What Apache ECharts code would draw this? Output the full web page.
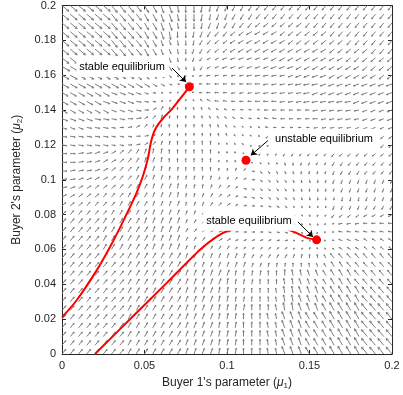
<!DOCTYPE html>
<html><head><meta charset="utf-8">
<script src="https://cdn.jsdelivr.net/npm/echarts@6.0.0/dist/echarts.min.js"></script>
<style>html,body{margin:0;padding:0;background:#fff}#c{width:403px;height:395px}</style>
</head><body><div id="c"></div>
<script>
// grid positions of the direction field (both axes)
const gridValues = [0,0.005,0.01,0.015,0.02,0.025,0.03,0.035,0.04,0.045,0.05,0.055,0.06,0.065,0.07,0.075,0.08,0.085,0.09,0.095,0.1,0.105,0.11,0.115,0.12,0.125,0.13,0.135,0.14,0.145,0.15,0.155,0.16,0.165,0.17,0.175,0.18,0.185,0.19,0.195,0.2];
// arrow direction, run-length coded "code+count"; code index * 10 deg (0 = right, 90 = up)
// rows go from y = 0.2 (top) down to y = 0
const angleCodes = "0123456789abcdefghijklmnopqrstuvwxyz";
const angleRows = [
"w6 v4 u2 t2 s1 r2 q2 p2 o3 n17",
"w6 v4 u2 t2 s1 r2 q2 p2 o3 n17",
"w6 v4 u2 t2 s1 r2 q1 p2 o2 n2 m6 n11",
"w6 v4 u2 t1 s1 r2 q1 p1 o1 n2 m2 l4 m6 n8",
"w6 v4 u2 t2 s1 r1 q1 o1 n1 m2 l7 m7 n6",
"w6 v4 u2 t2 s1 r1 p1 o1 n1 m2 l12 m5 n3",
"w7 v3 u2 t2 s1 r1 p1 n1 l2 k6 l9 m6",
"x5 w5 v3 u2 s1 r1 o1 l1 k10 l8 m4",
"x9 w4 v1 u1 q1 m1 k1 j10 k5 l6 m2",
"x13 y1 z1 r1 j1 i8 j7 k9",
"x6 y5 z2 01 21 e1 h1 i4 j10 k10",
"x5 y4 z3 11 31 61 91 b1 d1 f1 h2 i6 j9 k5",
"x6 y3 z1 01 31 61 81 92 a1 b1 d1 f1 g1 h4 i6 j6 k4",
"y4 z4 01 11 31 51 71 81 93 a1 b1 c1 e1 f1 g1 h4 i5 j5 k4",
"y3 z4 01 11 31 51 71 81 95 a1 b1 c1 d1 e1 g1 h2 i5 j5 k5",
"z9 01 11 31 61 81 95 a1 b1 c1 d1 f1 h1 m1 n2 m1 l5 m7",
"z8 01 11 31 51 71 81 96 a1 b1 d1 n1 o3 n4 m10",
"02 12 22 31 41 51 61 71 82 98 a1 c1 o6 n5 m7",
"02 12 21 32 41 51 61 72 81 99 r1 u2 t2 s1 r1 q1 p1 o4 n6",
"01 13 21 31 41 52 61 72 83 95 81 71 51 z1 v1 u1 t2 s1 r1 q2 p2 o3 n4",
"12 22 32 41 52 62 72 86 71 61 51 31 01 w1 v1 u2 t1 s2 r1 q1 p8",
"22 32 43 52 62 73 84 71 61 51 41 z1 x1 w1 v2 u1 t1 s1 r2 q1 p8",
"32 43 53 63 73 83 71 61 51 41 31 01 y1 x1 w1 v2 u1 t1 s1 r1 q5 p4",
"43 54 64 74 81 72 61 51 41 31 11 01 z1 y1 x1 w1 v1 u1 s1 r1 q1 p4 o4",
"41 55 65 76 61 51 41 31 21 12 02 z1 y1 x1 v1 s1 q1 o1 n1 m3 l4",
"55 65 76 61 51 41 31 21 12 02 z2 y1 x1 v1 t1 r1 m1 k1 j3 i4",
"55 66 74 61 51 41 31 21 12 03 z2 y1 x1 v1 s1 o1 j1 i1 h7",
"55 66 74 62 51 41 32 25 13 02 i1 h1 g4 f4",
"55 66 77 63 52 47 81 b1 e1 f4 e4",
"58 67 78 65 71 81 91 a1 c1 d8",
"58 67 710 83 92 a1 b1 c3 d6",
"58 67 76 84 93 a2 b2 c4 d5",
"58 67 75 84 93 a2 b2 c5 d5",
"58 67 74 84 93 a3 b3 c5 d4",
"58 67 74 84 93 a3 b3 c5 d4",
"58 67 74 84 93 a3 b3 c5 d4",
"58 67 74 83 93 a2 b3 c7 d4",
"58 67 74 83 93 a2 b3 c7 d4",
"58 67 74 83 93 a2 b3 c7 d4",
"58 67 74 83 93 a2 b3 c7 d4",
"58 67 74 83 93 a2 b3 c7 d4"
];
// arrow length (pixels), same run-length coding and row order
const lengthRows = [
"99 85 74 623","99 85 74 623","99 85 627","99 85 627",
"98 83 71 61 58 620","98 83 71 61 58 620",
"97 83 72 61 51 41 31 44 56 615","97 83 72 61 51 41 31 44 56 615",
"87 73 61 51 41 31 23 31 45 56 612","87 73 61 51 41 31 23 31 45 56 612",
"76 63 51 41 31 22 12 21 31 46 56 611",
"76 63 51 41 31 25 31 46 56 611",
"66 54 43 34 34 34 46 510","66 54 43 34 34 34 46 510",
"56 45 36 34 24 36 410","56 45 36 34 24 36 410",
"56 45 48 27 36 49",
"56 57 46 23 12 23 36 48","56 57 46 23 12 23 36 48",
"513 46 37 37 48","513 46 37 37 48",
"515 46 37 36 47","515 46 37 36 47",
"515 46 37 25 48","515 46 37 25 48",
"615 46 37 23 23 47","615 46 37 23 23 47",
"615 46 37 22 12 22 47",
"615 46 37 23 23 47",
"615 58 45 45 68","615 58 45 45 68",
"613 68 56 66 78","613 68 56 66 78",
"613 68 56 76 88","613 68 56 76 88",
"613 68 66 86 98","613 68 66 86 98","613 68 66 86 98","613 68 66 86 98","613 68 66 86 98","613 68 66 86 98"
];

const equilibria = [[0.0772,0.1533],[0.1115,0.1112],[0.1543,0.0655]];
const trajectoryToA = [[0,0.0211],[0.009,0.031],[0.021,0.048],[0.03,0.063],[0.038,0.078],[0.045,0.092],[0.049,0.102],[0.052,0.112],[0.054,0.122],[0.0565,0.129],[0.061,0.135],[0.067,0.141],[0.072,0.147],[0.0772,0.1533]];
const trajectoryToB = [[0.02,0],[0.0432,0.0218],[0.0635,0.0408],[0.0836,0.0598],[0.0938,0.0674],[0.1018,0.0712],[0.11,0.0726],[0.125,0.0728],[0.135,0.0718],[0.142,0.0695],[0.148,0.0668],[0.1543,0.0655]];
const annotationTexts = ["stable equilibrium","unstable equilibrium","stable equilibrium"];
const annotationTextPos = [[0.0364,0.1647],[0.1588,0.1236],[0.1133,0.0764]];
const annotationArrowFrom = [[0.0667,0.1641],[0.1248,0.1225],[0.143,0.0758]];
const annotationArrowTo = [[0.0752,0.1561],[0.1145,0.114],[0.1521,0.0672]];
const xLabel = "Buyer 1's parameter (";
const yLabel = "Buyer 2's parameter (";

function decodeRow(s){
  let out = '';
  s.split(' ').forEach(t => { out += t[0].repeat(parseInt(t.slice(1), 10)); });
  return out;
}
const fieldData = [];
for (let r = 0; r < angleRows.length; r++) {
  const ar = decodeRow(angleRows[r]), lr = decodeRow(lengthRows[r]);
  for (let c = 0; c < gridValues.length; c++) {
    const a = angleCodes.indexOf(ar[c] || ar[ar.length-1]);
    const l = +(lr[c] || lr[lr.length-1]);
    fieldData.push([gridValues[c], gridValues[gridValues.length-1-r], a*10, l]);
  }
}
const FONT = '"Liberation Sans", Arial, Helvetica, sans-serif';
const axisCol = '#262626';
const chart = echarts.init(document.getElementById('c'), null, {renderer:'canvas'});
const baseAxis = {type:'value', min:0, max:0.2, splitLine:{show:false},
  axisLine:{show:true, onZero:false, lineStyle:{color:axisCol, width:1}},
  axisTick:{show:true, inside:true, length:4, lineStyle:{color:axisCol}}};
const nameStyle = {color:axisCol, fontSize:12, fontFamily:FONT,
  rich:{mu:{fontSize:12, fontStyle:'italic', fontFamily:FONT, color:axisCol}, sub:{fontSize:8, fontFamily:FONT, color:axisCol, padding:[7,0,0,0]}}};
chart.setOption({
  animation:false,
  grid:{left:62, right:11, top:4, bottom:40},
  xAxis:[
    Object.assign({}, baseAxis, {position:'bottom', interval:0.05,
      axisLabel:{color:axisCol, fontSize:11, fontFamily:FONT, margin:6},
      name: xLabel + '{mu|μ}{sub|1})', nameLocation:'middle', nameGap:21, nameTextStyle:nameStyle}),
    Object.assign({}, baseAxis, {position:'top', interval:0.05, axisLabel:{show:false}})
  ],
  yAxis:[
    Object.assign({}, baseAxis, {position:'left', interval:0.02,
      axisLabel:{color:axisCol, fontSize:11, fontFamily:FONT, margin:6},
      name: yLabel + '{mu|μ}{sub|2})', nameLocation:'middle', nameGap:37, nameTextStyle:nameStyle}),
    Object.assign({}, baseAxis, {position:'right', interval:0.02, axisLabel:{show:false}})
  ],
  series:[
    {type:'custom', name:'field', data:fieldData, silent:true, z:1, clip:false,
      renderItem:function(params, api){
        const p = api.coord([api.value(0), api.value(1)]);
        const th = api.value(2)*Math.PI/180, L = api.value(3);
        const ex = p[0] + L*Math.cos(th), ey = p[1] - L*Math.sin(th);
        const h = Math.max(1.4, L*0.28), a = 0.45;
        return {type:'group', children:[
          {type:'line', shape:{x1:p[0], y1:p[1], x2:ex, y2:ey}, style:{stroke:'#7d7d7d', lineWidth:1}},
          {type:'polyline', shape:{points:[[ex - h*Math.cos(th-a), ey + h*Math.sin(th-a)], [ex, ey], [ex - h*Math.cos(th+a), ey + h*Math.sin(th+a)]]}, style:{stroke:'#7d7d7d', lineWidth:0.9, fill:null}}
        ]};
      }},
    {type:'line', data:trajectoryToA, showSymbol:false, smooth:0.3, lineStyle:{color:'#ff0000', width:2}, z:3, silent:true},
    {type:'line', data:trajectoryToB, showSymbol:false, smooth:0.2, lineStyle:{color:'#ff0000', width:2}, z:3, silent:true},
    {type:'custom', name:'labels', silent:true, z:5,
      data: annotationTextPos.map((p,i)=>[p[0],p[1],i]),
      renderItem:function(params, api){
        const p = api.coord([api.value(0), api.value(1)]);
        return {type:'text', x:p[0], y:p[1], style:{text:annotationTexts[api.value(2)], fill:'#000', font:'11px '+FONT, align:'center', verticalAlign:'middle', backgroundColor:'#fff', padding:[4,3,5,3]}};
      }},
    {type:'lines', coordinateSystem:'cartesian2d', silent:true, z:6,
      symbol:['none','arrow'], symbolSize:6,
      lineStyle:{color:'#000', width:1, opacity:1},
      data: annotationArrowFrom.map((f,i)=>({coords:[f, annotationArrowTo[i]]}))},
    {type:'scatter', data:equilibria, symbolSize:9, itemStyle:{color:'#ff0000', opacity:1}, z:7, silent:true}
  ]
});
</script></body></html>
